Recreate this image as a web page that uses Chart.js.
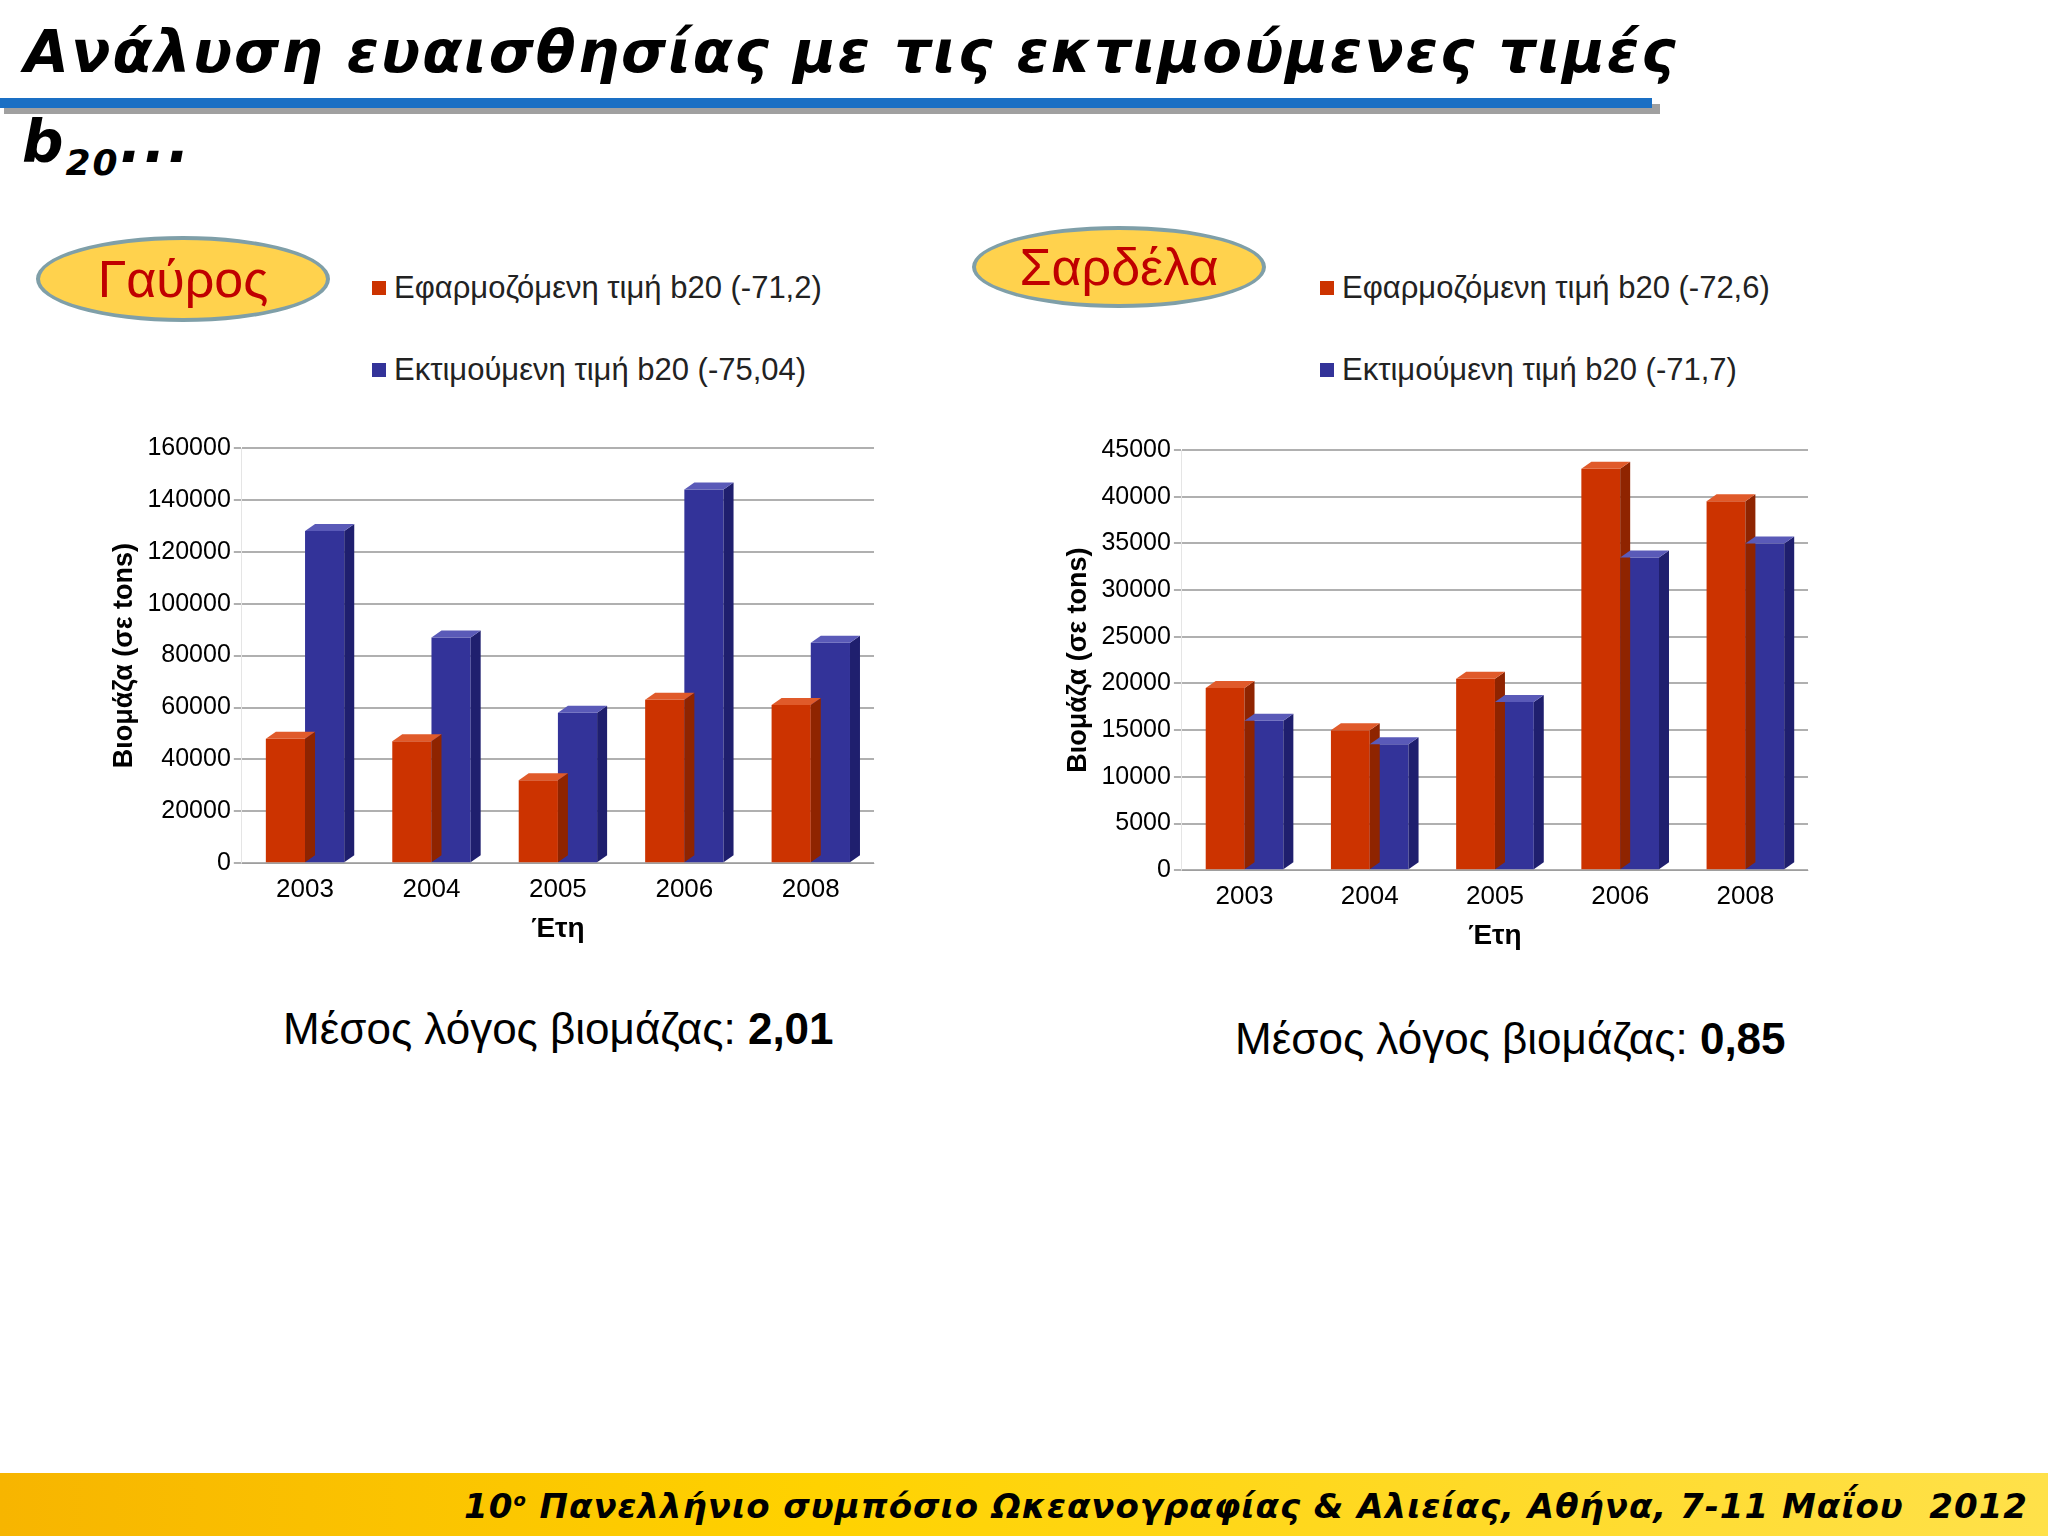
<!DOCTYPE html>
<html><head><meta charset="utf-8">
<script src="https://cdn.jsdelivr.net/npm/chart.js@4"></script>
<style>
body{margin:0;width:2048px;height:1536px;position:relative;background:#fff;font-family:"Liberation Sans",Arial,sans-serif;overflow:hidden}
.abs{position:absolute}
.title{font-family:"DejaVu Sans";font-style:italic;font-weight:bold;font-size:58px;letter-spacing:2px;color:#000}
.ell{border:4px solid #7f9fa8;border-radius:50%;background:#ffd24d;color:#c00000;font-size:52px;display:flex;align-items:center;justify-content:center;box-sizing:border-box}
.leg{font-size:31px;color:#222;display:flex;align-items:center}
.leg span{display:inline-block;width:14px;height:14px;margin-right:8px}
.ratio{font-size:44px;color:#000}
</style></head><body>
<div class="abs title" style="left:24px;top:18px">Ανάλυση ευαισθησίας με τις εκτιμούμενες τιμές</div>
<div class="abs" style="left:4px;top:104px;width:1656px;height:10px;background:#a0a0a0"></div>
<div class="abs" style="left:0;top:98px;width:1652px;height:10px;background:#1a6fc4"></div>
<div class="abs title" style="left:22px;top:108px">b<sub style="font-size:36px">20</sub>...</div>

<div class="abs ell" style="left:36px;top:236px;width:294px;height:86px">Γαύρος</div>
<div class="abs leg" style="left:372px;top:270px"><span style="background:#cc3300"></span>Εφαρμοζόμενη τιμή b20 (-71,2)</div>
<div class="abs leg" style="left:372px;top:352px"><span style="background:#333399"></span>Εκτιμούμενη τιμή b20 (-75,04)</div>
<div class="abs" style="left:104px;top:430px;width:800px;height:520px"><canvas id="c1"></canvas></div>

<div class="abs ell" style="left:972px;top:226px;width:294px;height:82px">Σαρδέλα</div>
<div class="abs leg" style="left:1320px;top:270px"><span style="background:#cc3300"></span>Εφαρμοζόμενη τιμή b20 (-72,6)</div>
<div class="abs leg" style="left:1320px;top:352px"><span style="background:#333399"></span>Εκτιμούμενη τιμή b20 (-71,7)</div>
<div class="abs" style="left:1058px;top:432px;width:780px;height:525px"><canvas id="c2"></canvas></div>

<div class="abs ratio" style="left:283px;top:1004px">Μέσος λόγος βιομάζας: <b>2,01</b></div>
<div class="abs ratio" style="left:1235px;top:1014px">Μέσος λόγος βιομάζας: <b>0,85</b></div>

<div class="abs" style="left:0;top:1473px;width:2048px;height:63px;background:linear-gradient(90deg,#f7b500,#ffd200 40%,#ffe14a)"></div>
<div class="abs title" style="right:20px;top:1486px;font-size:34px;letter-spacing:1px">10<sup style="font-size:18px">ο</sup> Πανελλήνιο συμπόσιο Ωκεανογραφίας &amp; Αλιείας, Αθήνα, 7-11 Μαΐου &nbsp;2012</div>

<script>
const years = ['2003', '2004', '2005', '2006', '2008'];
const gavrosApplied = [48000, 47000, 32000, 63000, 61000];
const gavrosEstimated = [128000, 87000, 58000, 144000, 85000];
const sardApplied = [19500, 15000, 20500, 43000, 39500];
const sardEstimated = [16000, 13500, 18000, 33500, 35000];

// fake 3D: side and top faces on each bar
const depth = 10;
const bar3d = {
  id: 'bar3d',
  afterDatasetsDraw(chart) {
    const ctx = chart.ctx;
    const shades = [['#8f2400', '#e05a2a'], ['#1f1f6e', '#5a5ab8']];
    chart.data.datasets.forEach((ds, i) => {
      chart.getDatasetMeta(i).data.forEach(b => {
        const l = b.x - b.width / 2, r = b.x + b.width / 2, t = b.y, bot = b.base;
        ctx.fillStyle = shades[i][0];
        ctx.beginPath();
        ctx.moveTo(r, t); ctx.lineTo(r + depth, t - depth * 0.7); ctx.lineTo(r + depth, bot - depth * 0.7); ctx.lineTo(r, bot);
        ctx.fill();
        ctx.fillStyle = shades[i][1];
        ctx.beginPath();
        ctx.moveTo(l, t); ctx.lineTo(l + depth, t - depth * 0.7); ctx.lineTo(r + depth, t - depth * 0.7); ctx.lineTo(r, t);
        ctx.fill();
      });
    });
  }
};

function makeChart(id, a, e, max, step) {
  new Chart(document.getElementById(id).getContext('2d'), {
    type: 'bar',
    data: {
      labels: years,
      datasets: [
        { label: 'Εφαρμοζόμενη', data: a, backgroundColor: '#cc3300' },
        { label: 'Εκτιμούμενη', data: e, backgroundColor: '#333399' }
      ]
    },
    options: {
      responsive: true, maintainAspectRatio: false, animation: false,
      layout: { padding: { top: 10, right: 30 } },
      datasets: { bar: { categoryPercentage: 0.62, barPercentage: 1 } },
      plugins: { legend: { display: false } },
      scales: {
        x: {
          grid: { display: false },
          ticks: { color: '#000', font: { size: 26 } },
          title: { display: true, text: 'Έτη', color: '#000', font: { size: 28, weight: 'bold' } }
        },
        y: {
          min: 0, max: max,
          ticks: { stepSize: step, color: '#000', font: { size: 25 }, callback: v => String(v) },
          grid: { color: '#b0b0b0', lineWidth: 2 },
          title: { display: true, text: 'Βιομάζα (σε tons)', color: '#000', font: { size: 27, weight: 'bold' } }
        }
      }
    },
    plugins: [bar3d]
  });
}

makeChart('c1', gavrosApplied, gavrosEstimated, 160000, 20000);
makeChart('c2', sardApplied, sardEstimated, 45000, 5000);
</script>
</body></html>
